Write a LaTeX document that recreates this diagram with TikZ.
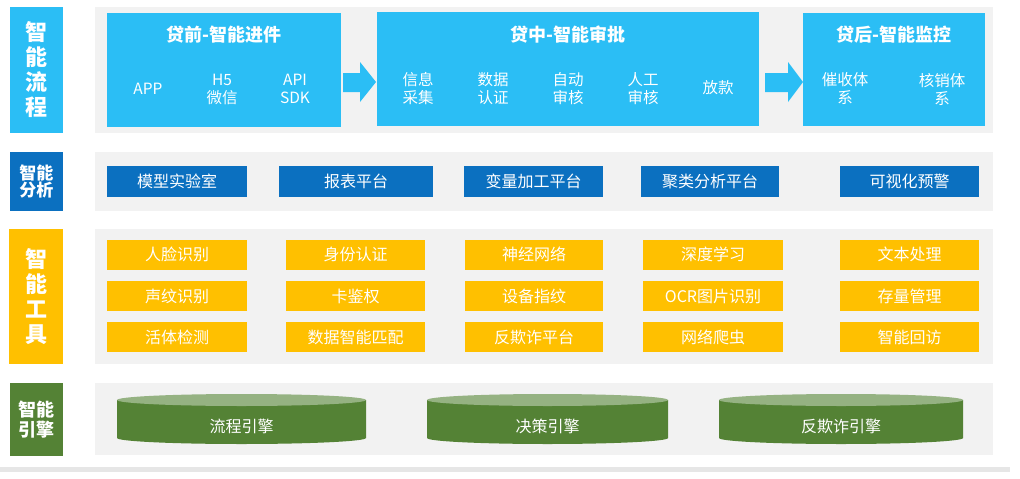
\documentclass[tikz,border=0pt]{standalone}
\usepackage{fontspec}
\setmainfont{Noto Sans CJK SC}
\definecolor{lblue}{HTML}{2BBEF5}
\definecolor{dblue}{HTML}{0B70C0}
\definecolor{yel}{HTML}{FFC000}
\definecolor{grn}{HTML}{548235}
\definecolor{lgrn}{HTML}{95B282}
\definecolor{bgc}{HTML}{F2F2F2}
\definecolor{barc}{HTML}{E6E6E6}
\begin{document}
\begin{tikzpicture}[x=1pt,y=1pt,
  box/.style={inner sep=0pt, outer sep=0pt, draw=none, text=white, align=center},
  panel/.style={box, fill=bgc},
  lab/.style={box, font=\bfseries},
  flow/.style={box, fill=lblue},
  title/.style={text=white, font=\fontsize{18}{21}\selectfont\bfseries, inner sep=0pt},
  item/.style={text=white, align=center, font=\fontsize{15.5}{18}\selectfont, inner sep=0pt},
  ana/.style={box, fill=dblue, minimum height=31pt, font=\fontsize{16}{18}\selectfont},
  tool/.style={box, fill=yel, minimum height=30pt, font=\fontsize{16}{18}\selectfont},
  eng/.style={text=white, font=\fontsize{16}{18}\selectfont, inner sep=0pt}
]
\useasboundingbox (0,0) rectangle (1020,-479);
\fill[white] (0,0) rectangle (1020,-479);

% bottom bar
\fill[barc] (0,-467) rectangle (1010,-472);

% panels
\node[panel, minimum width=898pt, minimum height=126pt] (p1) at (544,-70) {};
\node[panel, minimum width=898pt, minimum height=59pt] (p2) at (544,-181.5) {};
\node[panel, minimum width=898pt, minimum height=135pt] (p3) at (544,-296.5) {};
\node[panel, minimum width=898pt, minimum height=72pt] (p4) at (544,-419) {};

% left labels
\node[lab, fill=lblue, minimum width=53pt, minimum height=126pt, font=\fontsize{22}{25}\selectfont\bfseries] (l1) at (36.5,-70) {智\\能\\流\\程};
\node[lab, fill=dblue, minimum width=53pt, minimum height=59pt, font=\fontsize{17}{17}\selectfont\bfseries] (l2) at (36.5,-181.5) {智能\\分析};
\node[lab, fill=yel, minimum width=54pt, minimum height=135pt, font=\fontsize{22}{25}\selectfont\bfseries] (l3) at (36,-296.5) {智\\能\\工\\具};
\node[lab, fill=grn, minimum width=53pt, minimum height=73pt, font=\fontsize{18}{20}\selectfont\bfseries] (l4) at (36.5,-419.5) {智能\\引擎};

% top flow boxes
\node[flow, minimum width=234pt, minimum height=114pt] (b1) at (224,-70) {};
\node[flow, minimum width=382pt, minimum height=114pt] (b2) at (568,-69) {};
\node[flow, minimum width=182pt, minimum height=113pt] (b3) at (894,-69.5) {};

\node[title] (t1) at (224,-35) {贷前-智能进件};
\node[title] (t2) at (568,-35) {贷中-智能审批};
\node[title] (t3) at (894,-35) {贷后-智能监控};

\node[item] (i11) at (148,-89) {APP};
\node[item] (i12) at (222,-89) {H5\\微信};
\node[item] (i13) at (295,-89) {API\\SDK};

\node[item] (i21) at (418,-89) {信息\\采集};
\node[item] (i22) at (493,-89) {数据\\认证};
\node[item] (i23) at (568,-89) {自动\\审核};
\node[item] (i24) at (643,-89) {人工\\审核};
\node[item] (i25) at (718,-88) {放款};

\node[item] (i31) at (845,-89) {催收体\\系};
\node[item] (i32) at (942,-89) {核销体\\系};

% block arrows
\fill[lblue] (343,-73) -- (360,-73) -- (360,-62) -- (376,-82) -- (360,-102) -- (360,-92) -- (343,-92) -- cycle;
\fill[lblue] (765,-73) -- (788,-73) -- (788,-62) -- (803,-82) -- (788,-102) -- (788,-92) -- (765,-92) -- cycle;

% analysis row
\node[ana, minimum width=140pt] (a1) at (177,-181.5) {模型实验室};
\node[ana, minimum width=154pt] (a2) at (356,-181.5) {报表平台};
\node[ana, minimum width=139pt] (a3) at (533.5,-181.5) {变量加工平台};
\node[ana, minimum width=138pt] (a4) at (710,-181.5) {聚类分析平台};
\node[ana, minimum width=139pt] (a5) at (909.5,-181.5) {可视化预警};

% tools rows
\node[tool, minimum width=140pt] (u11) at (177,-254.5) {人脸识别};
\node[tool, minimum width=140pt] (u12) at (177,-296) {声纹识别};
\node[tool, minimum width=140pt] (u13) at (177,-337) {活体检测};
\node[tool, minimum width=139pt] (u21) at (355.5,-254.5) {身份认证};
\node[tool, minimum width=139pt] (u22) at (355.5,-296) {卡鉴权};
\node[tool, minimum width=139pt] (u23) at (355.5,-337) {数据智能匹配};
\node[tool, minimum width=138pt] (u31) at (534,-254.5) {神经网络};
\node[tool, minimum width=138pt] (u32) at (534,-296) {设备指纹};
\node[tool, minimum width=138pt] (u33) at (534,-337) {反欺诈平台};
\node[tool, minimum width=140pt] (u41) at (713,-254.5) {深度学习};
\node[tool, minimum width=140pt] (u42) at (713,-296) {OCR图片识别};
\node[tool, minimum width=140pt] (u43) at (713,-337) {网络爬虫};
\node[tool, minimum width=139pt] (u51) at (909.5,-254.5) {文本处理};
\node[tool, minimum width=139pt] (u52) at (909.5,-296) {存量管理};
\node[tool, minimum width=139pt] (u53) at (909.5,-337) {智能回访};

% engine cylinders
\foreach \xl/\xr in {117/366, 427/668, 719/963}{
  \pgfmathsetmacro{\rx}{(\xr-\xl)/2}
  \pgfmathsetmacro{\cx}{(\xr+\xl)/2}
  \fill[grn] (\xl,-400) -- (\xl,-438) arc[start angle=180, end angle=360, x radius=\rx pt, y radius=6pt] -- (\xr,-400) -- cycle;
  \fill[lgrn] (\cx,-400) ellipse[x radius=\rx pt, y radius=6pt];
}
\node[eng] (e1) at (241.5,-426) {流程引擎};
\node[eng] (e2) at (547.5,-426) {决策引擎};
\node[eng] (e3) at (841,-426) {反欺诈引擎};
\end{tikzpicture}
\end{document}
